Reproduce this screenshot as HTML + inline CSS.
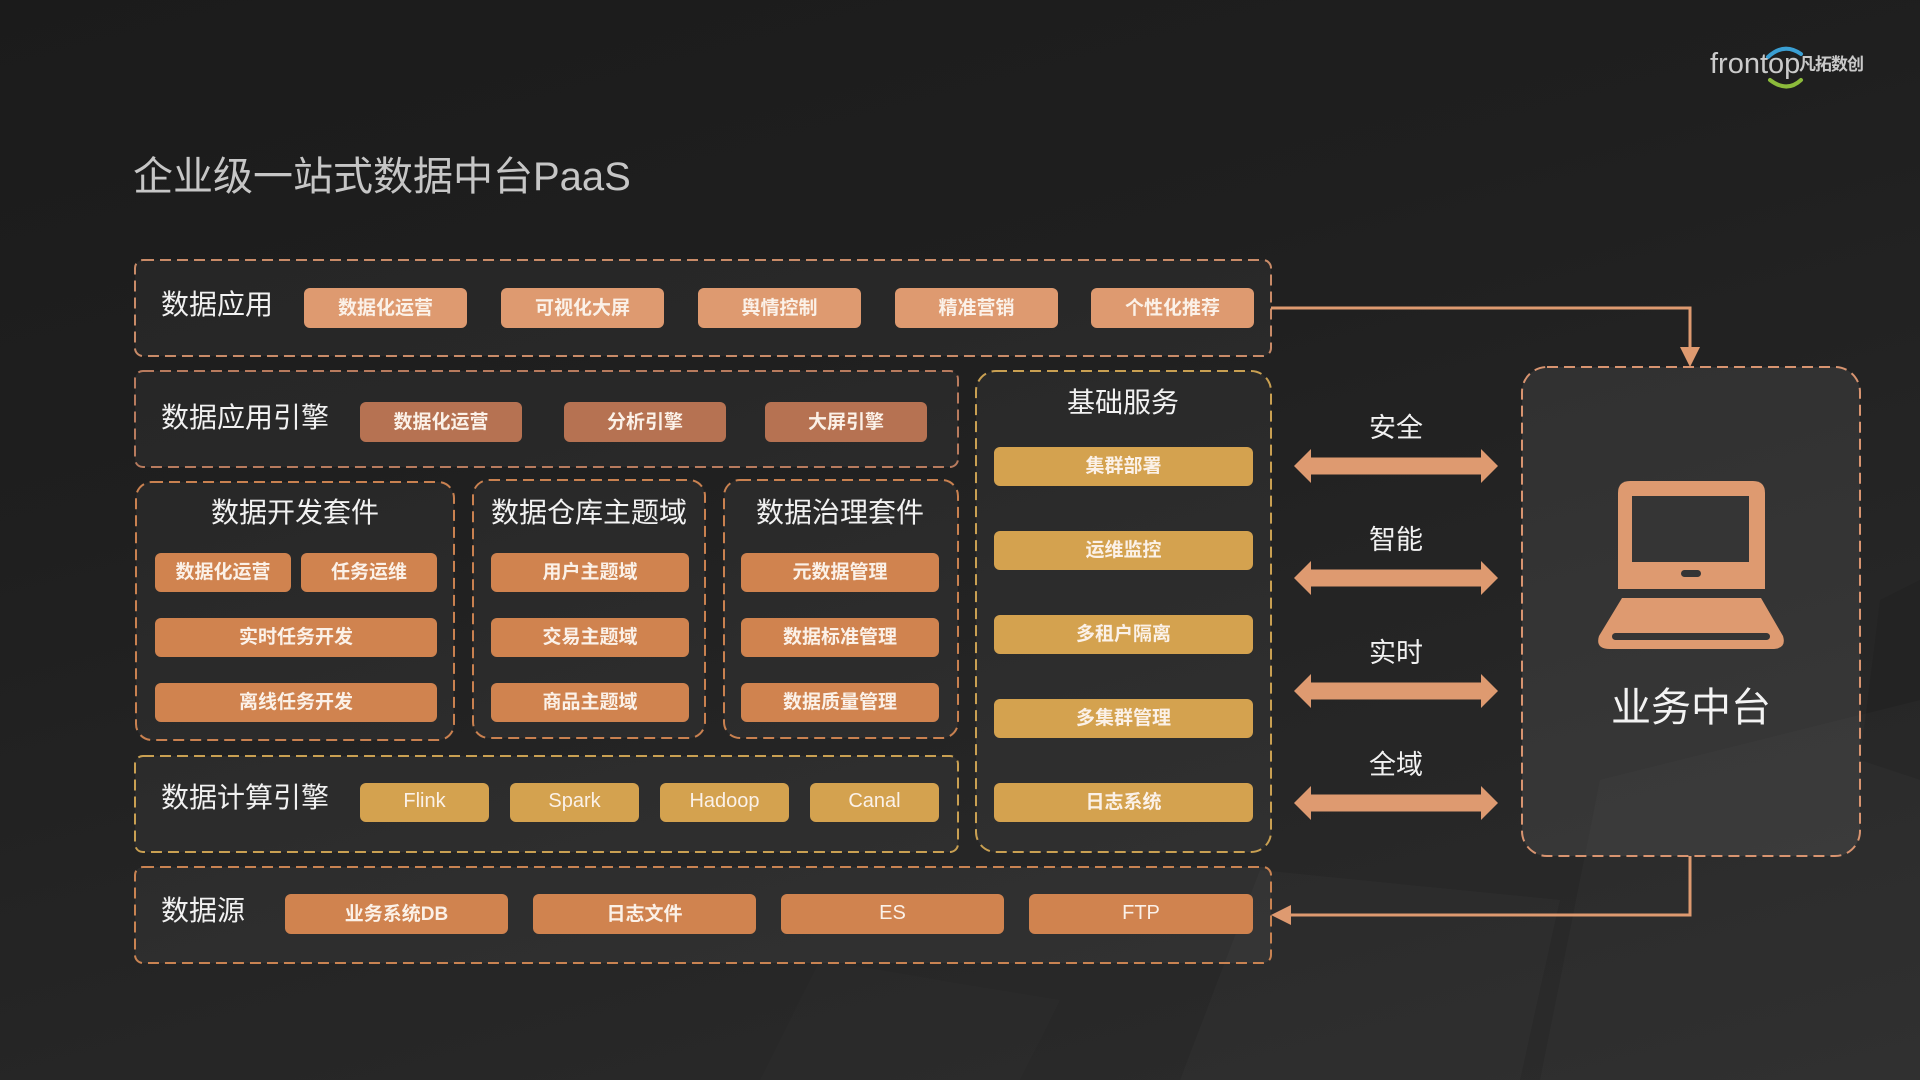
<!DOCTYPE html>
<html>
<head>
<meta charset="utf-8">
<style>
  html,body{margin:0;padding:0;}
  body{width:1920px;height:1080px;overflow:hidden;position:relative;
    background:linear-gradient(165deg,#1b1b1b 0%,#1f1f1f 35%,#262626 70%,#2c2c2c 100%);
    font-family:"Liberation Sans","Noto Sans CJK SC",sans-serif;}
  svg.layer{position:absolute;left:0;top:0;}
  .t{position:absolute;white-space:nowrap;}
  .lbl{position:absolute;height:40px;line-height:40px;font-size:28px;color:#f1f1f1;white-space:nowrap;}
  .ttl{position:absolute;height:40px;line-height:40px;font-size:28px;color:#f1f1f1;white-space:nowrap;transform:translateX(-50%);}
  .chip{position:absolute;display:flex;align-items:center;justify-content:center;box-sizing:border-box;padding-bottom:4px;
    border-radius:6px;color:#fbf1e8;font-size:19px;font-weight:bold;white-space:nowrap;}
  .c1{background:#de9a70;}
  .c2{background:#b67252;}
  .c3{background:#d0834f;}
  .c4{background:#d4a24f;}
  .lat{font-weight:normal;font-size:20px;padding-bottom:2px;}
</style>
</head>
<body>

<svg class="layer" width="1920" height="1080" viewBox="0 0 1920 1080">
  <polygon points="1180,1080 1260,870 1560,900 1520,1080" fill="rgba(255,255,255,0.018)"/>
  <polygon points="1540,1080 1600,780 1920,700 1920,1080" fill="rgba(255,255,255,0.02)"/>
  <polygon points="760,1080 820,960 1060,1000 1020,1080" fill="rgba(255,255,255,0.012)"/>
  <polygon points="1860,760 1880,600 1920,580 1920,780" fill="rgba(0,0,0,0.08)"/>

  <!-- logo arcs -->
  <path d="M1768,57 Q1784,42 1801,54" fill="none" stroke="#3a9fd3" stroke-width="4" stroke-linecap="round"/>
  <path d="M1770,80 Q1787,93 1801,80" fill="none" stroke="#8cbb3b" stroke-width="4" stroke-linecap="round"/>

  <g fill="rgba(255,255,255,0.045)" stroke-width="2" stroke-dasharray="11 6">
    <rect x="135" y="260" width="1136" height="96" rx="8" stroke="#c98b68"/>
    <rect x="135" y="371" width="823" height="96" rx="8" stroke="#b87b5e"/>
    <rect x="136" y="482" width="318" height="258" rx="16" stroke="#c98150"/>
    <rect x="473" y="480" width="232" height="258" rx="16" stroke="#c98150"/>
    <rect x="724" y="480" width="234" height="258" rx="16" stroke="#c98150"/>
    <rect x="976" y="371" width="295" height="481" rx="20" stroke="#c9a052"/>
    <rect x="135" y="756" width="823" height="96" rx="8" stroke="#c9a052"/>
    <rect x="135" y="867" width="1136" height="96" rx="8" stroke="#c98352"/>
  </g>
  <rect x="1522" y="367" width="338" height="489" rx="25" fill="rgba(255,255,255,0.07)" stroke="#d89470" stroke-width="2" stroke-dasharray="11 6"/>

  <polyline points="1271,308 1690,308 1690,349" fill="none" stroke="#de9a70" stroke-width="3"/>
  <polygon points="1680,347 1700,347 1690,367" fill="#de9a70"/>
  <polyline points="1690,856 1690,915 1289,915" fill="none" stroke="#de9a70" stroke-width="3"/>
  <polygon points="1291,905 1291,925 1271,915" fill="#de9a70"/>

  <g fill="#de9a70">
    <polygon points="1294,466 1311,449 1311,457.5 1481,457.5 1481,449 1498,466 1481,483 1481,474.5 1311,474.5 1311,483"/>
    <polygon points="1294,578 1311,561 1311,569.5 1481,569.5 1481,561 1498,578 1481,595 1481,586.5 1311,586.5 1311,595"/>
    <polygon points="1294,691 1311,674 1311,682.5 1481,682.5 1481,674 1498,691 1481,708 1481,699.5 1311,699.5 1311,708"/>
    <polygon points="1294,803 1311,786 1311,794.5 1481,794.5 1481,786 1498,803 1481,820 1481,811.5 1311,811.5 1311,820"/>
  </g>

  <path d="M1618,589 L1618,493 Q1618,481 1630,481 L1753,481 Q1765,481 1765,493 L1765,589 Z" fill="#de9a70"/>
  <rect x="1632" y="496" width="117" height="66" fill="#353535"/>
  <rect x="1681" y="570" width="20" height="7" rx="3.5" fill="#353535"/>
  <path d="M1622,598 L1761,598 L1783,636 Q1787,649 1772,649 L1610,649 Q1595,649 1599,636 Z" fill="#de9a70"/>
  <rect x="1612" y="633" width="158" height="7" rx="3.5" fill="#353535"/>
</svg>

<div class="t" style="left:1710px;top:44px;font-size:29px;color:#cbcbcb;line-height:40px;">frontop</div>
<div class="t" style="left:1799px;top:52px;font-size:17px;font-weight:bold;color:#c9c9c9;line-height:26px;letter-spacing:-1px;">凡拓数创</div>

<div class="t" style="left:133px;top:155px;font-size:40px;color:#c6c6c6;line-height:44px;">企业级一站式数据中台PaaS</div>

<div class="lbl" style="left:161px;top:285px;">数据应用</div>
<div class="chip c1" style="left:304px;top:288px;width:163px;height:40px;">数据化运营</div>
<div class="chip c1" style="left:501px;top:288px;width:163px;height:40px;">可视化大屏</div>
<div class="chip c1" style="left:698px;top:288px;width:163px;height:40px;">舆情控制</div>
<div class="chip c1" style="left:895px;top:288px;width:163px;height:40px;">精准营销</div>
<div class="chip c1" style="left:1091px;top:288px;width:163px;height:40px;">个性化推荐</div>

<div class="lbl" style="left:161px;top:398px;">数据应用引擎</div>
<div class="chip c2" style="left:360px;top:402px;width:162px;height:40px;">数据化运营</div>
<div class="chip c2" style="left:564px;top:402px;width:162px;height:40px;">分析引擎</div>
<div class="chip c2" style="left:765px;top:402px;width:162px;height:40px;">大屏引擎</div>

<div class="ttl" style="left:295px;top:493px;">数据开发套件</div>
<div class="chip c3" style="left:155px;top:553px;width:136px;height:39px;">数据化运营</div>
<div class="chip c3" style="left:301px;top:553px;width:136px;height:39px;">任务运维</div>
<div class="chip c3" style="left:155px;top:618px;width:282px;height:39px;">实时任务开发</div>
<div class="chip c3" style="left:155px;top:683px;width:282px;height:39px;">离线任务开发</div>

<div class="ttl" style="left:589px;top:493px;">数据仓库主题域</div>
<div class="chip c3" style="left:491px;top:553px;width:198px;height:39px;">用户主题域</div>
<div class="chip c3" style="left:491px;top:618px;width:198px;height:39px;">交易主题域</div>
<div class="chip c3" style="left:491px;top:683px;width:198px;height:39px;">商品主题域</div>

<div class="ttl" style="left:840px;top:493px;">数据治理套件</div>
<div class="chip c3" style="left:741px;top:553px;width:198px;height:39px;">元数据管理</div>
<div class="chip c3" style="left:741px;top:618px;width:198px;height:39px;">数据标准管理</div>
<div class="chip c3" style="left:741px;top:683px;width:198px;height:39px;">数据质量管理</div>

<div class="ttl" style="left:1123px;top:383px;">基础服务</div>
<div class="chip c4" style="left:994px;top:447px;width:259px;height:39px;">集群部署</div>
<div class="chip c4" style="left:994px;top:531px;width:259px;height:39px;">运维监控</div>
<div class="chip c4" style="left:994px;top:615px;width:259px;height:39px;">多租户隔离</div>
<div class="chip c4" style="left:994px;top:699px;width:259px;height:39px;">多集群管理</div>
<div class="chip c4" style="left:994px;top:783px;width:259px;height:39px;">日志系统</div>

<div class="lbl" style="left:161px;top:778px;">数据计算引擎</div>
<div class="chip c4 lat" style="left:360px;top:783px;width:129px;height:39px;">Flink</div>
<div class="chip c4 lat" style="left:510px;top:783px;width:129px;height:39px;">Spark</div>
<div class="chip c4 lat" style="left:660px;top:783px;width:129px;height:39px;">Hadoop</div>
<div class="chip c4 lat" style="left:810px;top:783px;width:129px;height:39px;">Canal</div>

<div class="lbl" style="left:161px;top:891px;">数据源</div>
<div class="chip c3" style="left:285px;top:894px;width:223px;height:40px;">业务系统DB</div>
<div class="chip c3" style="left:533px;top:894px;width:223px;height:40px;">日志文件</div>
<div class="chip c3 lat" style="left:781px;top:894px;width:223px;height:40px;">ES</div>
<div class="chip c3 lat" style="left:1029px;top:894px;width:224px;height:40px;">FTP</div>

<div class="ttl" style="left:1396px;top:408px;font-size:27px;">安全</div>
<div class="ttl" style="left:1396px;top:520px;font-size:27px;">智能</div>
<div class="ttl" style="left:1396px;top:633px;font-size:27px;">实时</div>
<div class="ttl" style="left:1396px;top:745px;font-size:27px;">全域</div>

<div class="ttl" style="left:1691px;top:684px;font-size:40px;height:48px;line-height:48px;color:#f3f3f3;">业务中台</div>

</body>
</html>
